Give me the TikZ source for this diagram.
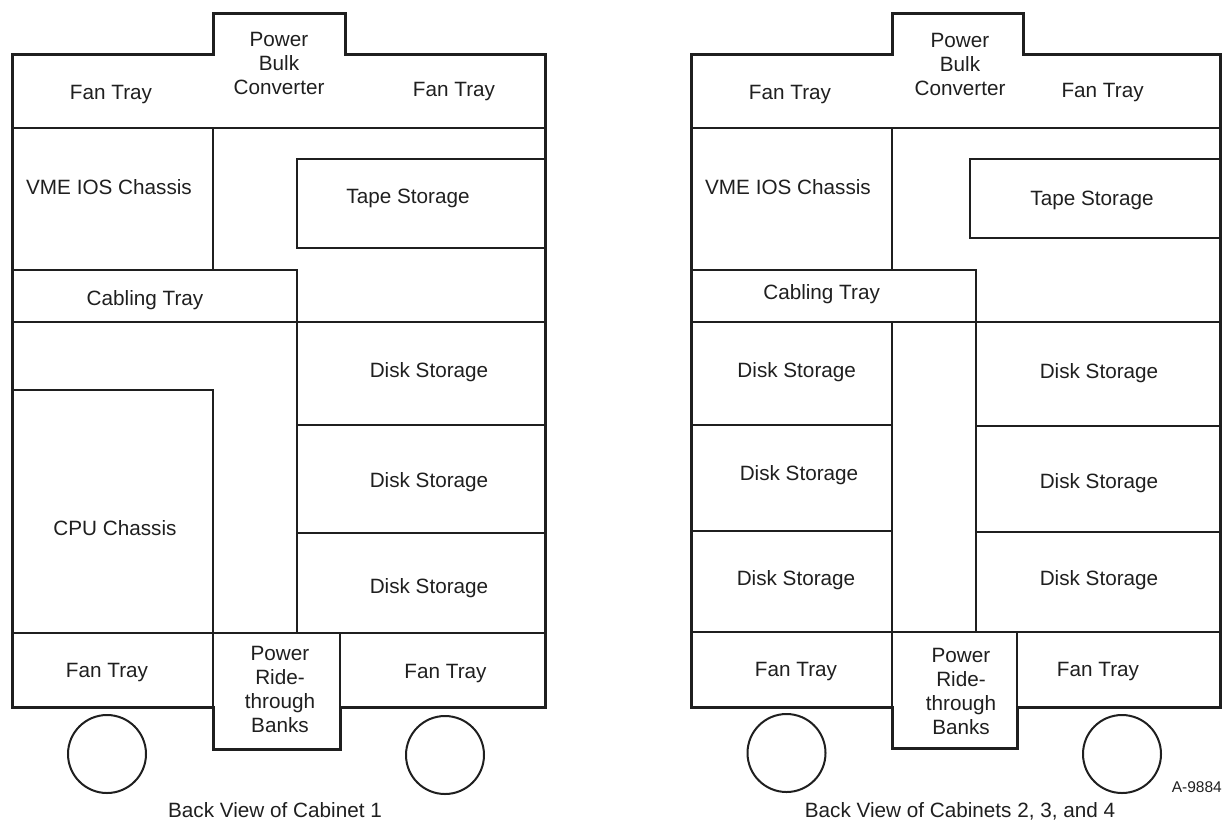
\documentclass[tikz,border=0pt]{standalone}
\usepackage{fontspec}
\setmainfont{Liberation Sans}
\begin{document}
\begin{tikzpicture}[x=1pt,y=-1pt,
  wall/.style={line width=3pt, line join=miter, draw=black!88},
  part/.style={line width=2.2pt, draw=black!88},
  wheel/.style={line width=2pt, draw=black!88},
  lbl/.style={font=\fontsize{20.7}{24}\selectfont, align=center, inner sep=0pt, text=black!88},
  small/.style={font=\fontsize{15.5}{18}\selectfont, inner sep=0pt, text=black!88}]
\useasboundingbox (0,0) rectangle (1222,823);

% ================= Cabinet 1 =================
\draw[part] (12.5,128) -- (545,128);
\draw[part] (213,128) -- (213,270);
\draw[part] (12.5,270) -- (297,270) -- (297,322);
\draw[part] (12.5,322) -- (545,322);
\draw[part] (545,159) -- (297,159) -- (297,248) -- (545,248);
\draw[part] (297,322) -- (297,633);
\draw[part] (297,425) -- (545,425);
\draw[part] (297,533) -- (545,533);
\draw[part] (12.5,390) -- (213,390) -- (213,633);
\draw[part] (12.5,633) -- (545,633);
\draw[part] (213,633) -- (213,707);
\draw[part] (340,633) -- (340,707);
\draw[wall] (12.5,54) -- (213,54) -- (213,13) -- (345,13) -- (345,54) -- (545,54)
  -- (545,707) -- (340,707) -- (340,749) -- (213,749) -- (213,707) -- (12.5,707) -- cycle;
\draw[wheel] (107,754) circle[radius=39];
\draw[wheel] (445,755) circle[radius=39];

\node[lbl] (c1pbc) at (279,63) {Power\\Bulk\\Converter};
\node[lbl] (c1ftl) at (111,95) {Fan Tray};
\node[lbl] (c1ftr) at (454,92) {Fan Tray};
\node[lbl] (c1vme) at (109,187) {VME IOS Chassis};
\node[lbl] (c1tape) at (408,198) {Tape Storage};
\node[lbl] (c1cab) at (145,300) {Cabling Tray};
\node[lbl] (c1d1) at (429,372) {Disk Storage};
\node[lbl] (c1d2) at (429,482) {Disk Storage};
\node[lbl] (c1d3) at (429,588) {Disk Storage};
\node[lbl] (c1cpu) at (115,528) {CPU Chassis};
\node[lbl] (c1fbl) at (107,673) {Fan Tray};
\node[lbl] (c1fbr) at (445.5,674) {Fan Tray};
\node[lbl] (c1prb) at (280,689) {Power\\Ride-\\through\\Banks};
\node[lbl] (c1cap) at (275,810) {Back View of Cabinet 1};

% ================= Cabinets 2, 3, 4 =================
\draw[part] (691.5,128) -- (1220,128);
\draw[part] (892,128) -- (892,270);
\draw[part] (691.5,270) -- (976,270) -- (976,322);
\draw[part] (691.5,322) -- (1220,322);
\draw[part] (1220,159) -- (970,159) -- (970,238) -- (1220,238);
\draw[part] (892,322) -- (892,632);
\draw[part] (976,322) -- (976,632);
\draw[part] (691.5,425) -- (892,425);
\draw[part] (691.5,531) -- (892,531);
\draw[part] (976,426) -- (1220,426);
\draw[part] (976,532) -- (1220,532);
\draw[part] (691.5,632) -- (1220,632);
\draw[part] (892,632) -- (892,707);
\draw[part] (1017,632) -- (1017,707);
\draw[wall] (691.5,54) -- (892,54) -- (892,13) -- (1023,13) -- (1023,54) -- (1220,54)
  -- (1220,707) -- (1017,707) -- (1017,748) -- (892,748) -- (892,707) -- (691.5,707) -- cycle;
\draw[wheel] (786.5,753) circle[radius=39];
\draw[wheel] (1122,754) circle[radius=39];

\node[lbl] (c2pbc) at (960,64) {Power\\Bulk\\Converter};
\node[lbl] (c2ftl) at (790,95) {Fan Tray};
\node[lbl] (c2ftr) at (1102.6,93) {Fan Tray};
\node[lbl] (c2vme) at (788,187) {VME IOS Chassis};
\node[lbl] (c2tape) at (1092,200) {Tape Storage};
\node[lbl] (c2cab) at (821.6,294) {Cabling Tray};
\node[lbl] (c2l1) at (796.7,372) {Disk Storage};
\node[lbl] (c2r1) at (1099,373) {Disk Storage};
\node[lbl] (c2l2) at (799,475) {Disk Storage};
\node[lbl] (c2r2) at (1099,483) {Disk Storage};
\node[lbl] (c2l3) at (796,580) {Disk Storage};
\node[lbl] (c2r3) at (1099,580) {Disk Storage};
\node[lbl] (c2fbl) at (796,672) {Fan Tray};
\node[lbl] (c2fbr) at (1098,672) {Fan Tray};
\node[lbl] (c2prb) at (961,691) {Power\\Ride-\\through\\Banks};
\node[small, anchor=east] (fig) at (1222,787) {A-9884};
\node[lbl] (c2cap) at (960,811) {Back View of Cabinets 2, 3, and 4};
\end{tikzpicture}
\end{document}
